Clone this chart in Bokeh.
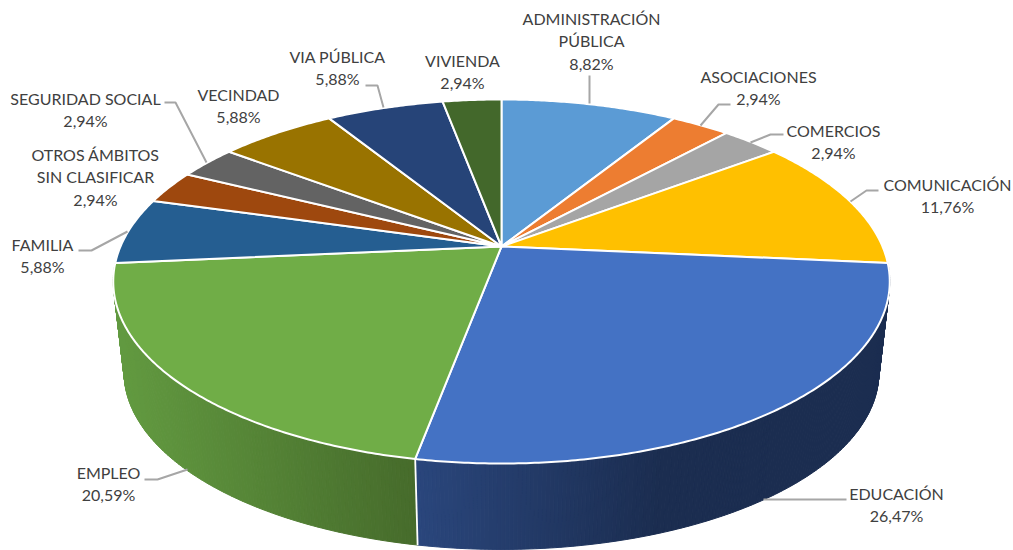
import numpy as np
from bokeh.plotting import figure
from bokeh.models import Range1d
from bokeh.core.properties import value
from bokeh.embed import file_html
from bokeh.resources import INLINE

categories = ["ADMINISTRACIÓN\nPÚBLICA", "ASOCIACIONES", "COMERCIOS", "COMUNICACIÓN", "EDUCACIÓN", "EMPLEO",
              "FAMILIA", "OTROS ÁMBITOS\nSIN CLASIFICAR", "SEGURIDAD SOCIAL", "VECINDAD", "VIA PÚBLICA", "VIVIENDA"]
values = [8.82, 2.94, 2.94, 11.76, 26.47, 20.59, 5.88, 2.94, 2.94, 5.88, 5.88, 2.94]
colors = ["#5B9BD5", "#ED7D31", "#A5A5A5", "#FFC000", "#4472C4", "#70AD47",
          "#255E91", "#9E480E", "#636363", "#997300", "#264478", "#43682B"]

# layout of the labels: centre x and centre y of the first line
label_x = [591, 758, 833, 947, 896, 108, 42, 95, 85, 238, 337, 462]
label_y = [18, 76, 130, 184, 493, 472, 244, 154, 98, 94, 56, 60]
LINE_GAP = 22.3

# leader lines
leaders = [
    [(589, 75), (589, 103)],
    [(730, 104), (718, 104), (700, 125)],
    [(783, 134), (770, 134), (750, 142)],
    [(878, 190), (866, 190), (850, 201)],
    [(846, 499), (763, 499)],
    [(144, 479), (157, 479), (187, 469)],
    [(78, 250), (91, 250), (127, 231)],
    [(164, 102), (175, 102), (206, 162)],
    [(365, 85), (377, 85), (383, 107)],
]

# perspective of the disc
CX, CY, R, A, K = 501, 246, 381, 175.3, 0.1923
SCALE, DROP = 0.972, 92

# side gradients: slice index -> (x0, colour0, x1, colour1)
side_grad = {4: (415, (0x2A, 0x46, 0x7C), 660, (0x1B, 0x2D, 0x50)),
             5: (115, (0x62, 0x9A, 0x40), 415, (0x46, 0x6B, 0x2B))}


def top(theta):
    u, v = np.sin(theta), np.cos(theta)
    w = 1 + K * v
    return R * u / w, A * v / w * -1


def px(dx, dy):
    return CX + dx, CY + dy


def bottom(theta):
    dx, dy = top(theta)
    return CX + SCALE * dx, CY + SCALE * dy + DROP


p = figure(width=1013, height=550, x_range=Range1d(0, 1013), y_range=Range1d(550, 0),
           output_backend="svg", toolbar_location=None, min_border=0)
p.axis.visible = False
p.grid.visible = False
p.outline_line_color = None
p.background_fill_color = "white"
p.border_fill_color = "white"

edges = np.radians(np.concatenate([[0], np.cumsum(values)]) / sum(values) * 360)

# sides
sx, sy, sc = [], [], []
for i, (g0, g1) in enumerate(zip(edges[:-1], edges[1:])):
    if i not in side_grad:
        continue
    x0, c0, x1, c1 = side_grad[i]
    ts = np.linspace(g0, g1, int(np.degrees(g1 - g0) * 2) + 1)
    for a, b in zip(ts[:-1], ts[1:]):
        xa, ya = px(*top(a))
        xb, yb = px(*top(b))
        xc, yc = bottom(b)
        xd, yd = bottom(a)
        f = min(1, max(0, ((xa + xb) / 2 - x0) / (x1 - x0)))
        col = "#%02x%02x%02x" % tuple(int(round(m + (n - m) * f)) for m, n in zip(c0, c1))
        sx.append([xa, xb, xc, xd])
        sy.append([ya, yb, yc, yd])
        sc.append(col)
p.patches(sx, sy, fill_color=sc, line_color=sc, line_width=1)

# white edge between the two visible sides
tb = edges[5]
xa, ya = px(*top(tb))
xb, yb = bottom(tb)
p.line([xa, xb], [ya, yb], line_color="white", line_width=1.8)

# top
tx, ty = [], []
for g0, g1 in zip(edges[:-1], edges[1:]):
    ts = np.linspace(g0, g1, max(8, int(np.degrees(g1 - g0) * 2)))
    dx, dy = top(ts)
    xs, ys = px(dx, dy)
    tx.append([CX] + list(xs))
    ty.append([CY] + list(ys))
p.patches(tx, ty, fill_color=colors, line_color="white", line_width=2, line_join="round")

# leaders
for pts in leaders:
    p.line([q[0] for q in pts], [q[1] for q in pts], line_color="#A6A6A6", line_width=2)

# labels
lx, ly, lt = [], [], []
for name, val, x, y in zip(categories, values, label_x, label_y):
    lines = name.split("\n") + [f"{val:.2f}%".replace(".", ",")]
    for j, s in enumerate(lines):
        lx.append(x)
        ly.append(y + j * LINE_GAP)
        lt.append(s)
p.text(lx, ly, text=lt, text_font=value("Lato"), text_font_size="16px", text_color="#404040",
       text_align="center", text_baseline="middle")

open("out.html", "w").write(file_html(p, INLINE))
